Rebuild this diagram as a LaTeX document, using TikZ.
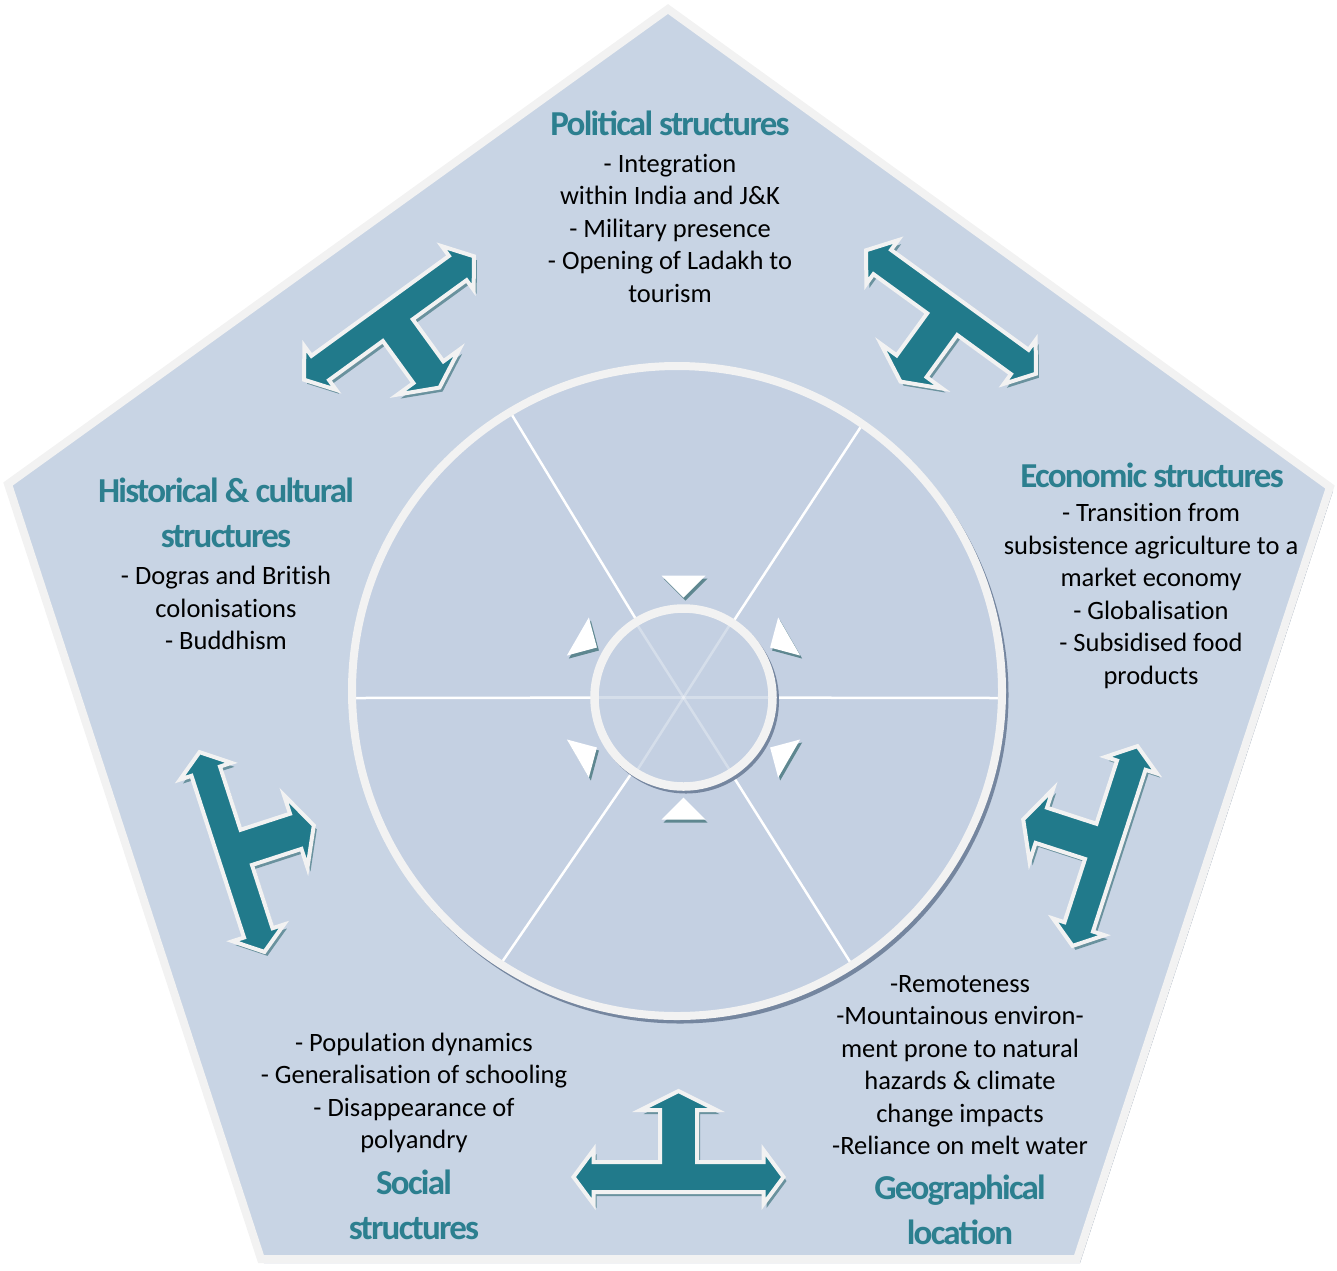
\documentclass[tikz,border=0pt]{standalone}
\usepackage{fontspec}
\setmainfont[Ligatures={NoCommon}]{Carlito}
\newfontfamily\titlefont[LetterSpace=-5]{Carlito}

\definecolor{panel}{HTML}{C8D4E4}
\definecolor{disc}{HTML}{C4D0E2}
\definecolor{rim}{HTML}{F2F2F2}
\definecolor{rimshadow}{HTML}{75869F}
\definecolor{panelshadow}{HTML}{8E9CB0}
\definecolor{arrowteal}{HTML}{217A8B}
\definecolor{arrowshade}{HTML}{6A929E}
\definecolor{titleteal}{HTML}{2C7F8F}
\definecolor{markshade}{HTML}{5E8790}

% three-headed arrow: bar along x, stem towards -y (upwards on the page)
\newcommand\tarrowpath{(-105,0) -- (-85,-27) -- (-85,-15) -- (-18.5,-15) -- (-18.5,-67)
  -- (-38,-67) -- (0,-86) -- (38,-67) -- (18.5,-67) -- (18.5,-15) -- (85,-15)
  -- (85,-27) -- (105,0) -- (85,27) -- (85,15) -- (-85,15) -- (-85,27) -- cycle}
\newcommand\tarrow[3]{%
  \begin{scope}[shift={(#1+3,#2+4)},rotate=#3]\fill[arrowshade] \tarrowpath;\end{scope}
  \begin{scope}[shift={(#1,#2)},rotate=#3]\filldraw[tarrowbody] \tarrowpath;\end{scope}}
% small triangles around the hub, pointing to its centre
\newcommand\hubmark[1]{%
  \begin{scope}[shift={(685.5,700.5)},rotate=#1]\fill[markshade] (100,0) -- (122,-22) -- (122,22) -- cycle;\end{scope}
  \begin{scope}[shift={(683.5,697.5)},rotate=#1]\fill[white] (100,0) -- (122,-22) -- (122,22) -- cycle;\end{scope}}

\begin{document}
\begin{tikzpicture}[x=1pt,y=-1pt,
  tarrowbody/.style={fill=arrowteal, draw=rim, line width=4, line join=miter},
  body/.style={font=\fontsize{26.5}{32.5}\selectfont, align=center, inner sep=0pt, text=black},
  heading/.style={font=\titlefont\bfseries\fontsize{35}{45}\selectfont, align=center, inner sep=0pt, text=titleteal},
  spoke/.style={draw=white, line width=2.5},
  faintspoke/.style={draw=white, draw opacity=0.3, line width=2.5}]
\useasboundingbox (0,0) rectangle (1337,1270);

% pentagon panel
\coordinate (p1) at (668,9);
\coordinate (p2) at (1330,487);
\coordinate (p3) at (1077,1259);
\coordinate (p4) at (261,1259);
\coordinate (p5) at (8,484);
\fill[panelshadow] ([shift={(3,4)}]p1) -- ([shift={(3,4)}]p2) -- ([shift={(3,4)}]p3)
  -- ([shift={(3,4)}]p4) -- ([shift={(3,4)}]p5) -- cycle;
\filldraw[fill=panel, draw=rim, line width=8, line join=miter] (p1) -- (p2) -- (p3) -- (p4) -- (p5) -- cycle;

% large disc
\coordinate (hub) at (683.5,697.5);
\draw[rimshadow, line width=7] (680,695) circle[radius=325];
\fill[disc] (677,691) circle[radius=322];
\foreach \p in {(512,415),(862,425),(355,698),(1000,698),(500,965),(852,965)}
  \draw[spoke] (hub) -- \p;

% hub
\draw[rimshadow, line width=8] (686,700.5) circle[radius=89];
\fill[disc] (hub) circle[radius=86];
\foreach \a in {0,57.5,122.5,180,237.5,302.5}
  \draw[faintspoke] (hub) -- ++(\a:85);
\draw[rim, line width=8.5] (hub) circle[radius=89];
\draw[rim, line width=8] (677,691) circle[radius=325];

\foreach \a in {90,30,-30,-90,-150,150} { \hubmark{\a} }

% three-headed arrows between the structures
\tarrow{678.5}{1177}{0}
\tarrow{389}{318}{216}
\tarrow{951}{312}{144}
\tarrow{1105}{846}{72}
\tarrow{232}{852}{-72}

% labels
\node[heading] (polT) at (670,123) {Political structures};
\node[body] (polB) at (670,228) {- Integration\\within India and J\&K\\- Military presence\\- Opening of Ladakh to\\tourism};
\node[heading] (ecoT) at (1152,475) {Economic structures};
\node[body] (ecoB) at (1151,596) {- Transition from\\subsistence agriculture to a\\market economy\\- Globalisation\\- Subsidised food\\products};
\node[heading] (hisT) at (226,513) {Historical \& cultural\\structures};
\node[body] (hisB) at (226,608) {- Dogras and British\\colonisations\\- Buddhism};
\node[body] (socB) at (414,1093) {- Population dynamics\\- Generalisation of schooling\\- Disappearance of\\polyandry};
\node[heading] (socT) at (414,1205) {Social\\structures};
\node[body] (geoB) at (960,1065) {-Remoteness\\-Mountainous environ-\\ment prone to natural\\hazards \& climate\\change impacts\\-Reliance on melt water};
\node[heading] (geoT) at (960,1210) {Geographical\\location};
\end{tikzpicture}
\end{document}
